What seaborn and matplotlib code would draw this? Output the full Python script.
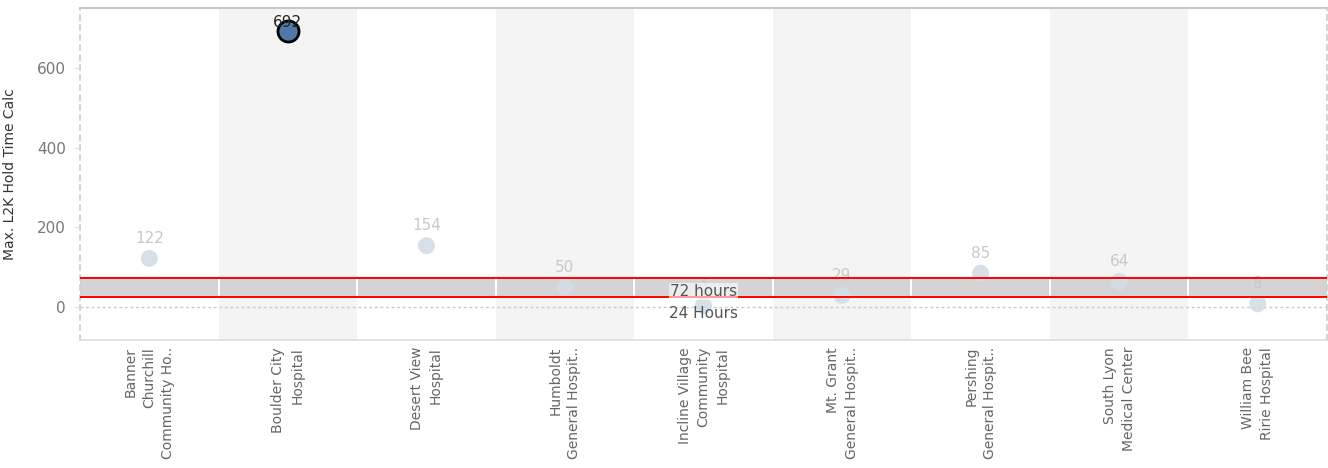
import pandas as pd
import matplotlib.pyplot as plt
import seaborn as sns
import numpy as np

hospitals = ['Banner\nChurchill\nCommunity Ho..', 'Boulder City\nHospital', 'Desert View\nHospital',
             'Humboldt\nGeneral Hospit..', 'Incline Village\nCommunity\nHospital', 'Mt. Grant\nGeneral Hospit..',
             'Pershing\nGeneral Hospit..', 'South Lyon\nMedical Center', 'William Bee\nRirie Hospital']
hold_time = [122, 692, 154, 50, 4, 29, 85, 64, 8]
highlight = [False, True, False, False, False, False, False, False, False]
ref_lines = [24, 72]
ref_labels = ['24 Hours', '72 hours']

df = pd.DataFrame({'hospital': hospitals, 'hold': hold_time, 'hi': highlight})
df['pos'] = np.arange(len(df))

sns.set_style('white')
plt.rcParams['font.family'] = ['DejaVu Sans']

fig = plt.figure(figsize=(13.28, 4.68), dpi=100)
ax = fig.add_axes([80 / 1328, 128 / 468, 1247 / 1328, 332 / 468])

n = len(df)
ax.set_xlim(-0.5, n - 0.5)
ax.set_ylim(-83, 751)

# alternating column shading
for i in range(n):
    if i % 2 == 1:
        ax.axvspan(i - 0.5, i + 0.5, color='#f4f4f4', zorder=0, lw=0)

# reference band
ax.axhspan(ref_lines[0], ref_lines[1], color='#d4d4d4', zorder=1, lw=0)
ax.vlines(np.arange(n - 1) + 0.5, ref_lines[0], ref_lines[1], color='white', lw=1.5, zorder=1.5)
for v in ref_lines:
    ax.axhline(v, color='#ff0000', lw=1.4, zorder=4)
ax.axhline(0, color='#c8c8c8', lw=1, ls=(0, (2, 2)), zorder=1)

rest = df[~df['hi']]
top = df[df['hi']]
sns.scatterplot(data=rest, x='pos', y='hold', color='#d3dce6', s=150, edgecolor='none',
                alpha=0.9, zorder=3, ax=ax, legend=False)
sns.scatterplot(data=top, x='pos', y='hold', color='#4e79a7', s=230, edgecolor='black',
                linewidth=2, zorder=5, ax=ax, legend=False)

for _, r in df.iterrows():
    if r['hi']:
        ax.annotate(str(r['hold']), (r['pos'], r['hold']), xytext=(0, 1), textcoords='offset points',
                    ha='center', va='bottom', fontsize=11, color='#222222', zorder=6)
    else:
        ax.annotate(str(r['hold']), (r['pos'], r['hold']), xytext=(0, 9), textcoords='offset points',
                    ha='center', va='bottom', fontsize=11, color='#c8c8c8', zorder=3)

# reference line labels in the middle column
mid = (n - 1) / 2
ax.text(mid, 39, ref_labels[1], ha='center', va='center', fontsize=11, color='#555555', zorder=6,
        bbox=dict(facecolor='white', alpha=0.6, edgecolor='none', pad=0.5))
ax.text(mid, -17, ref_labels[0], ha='center', va='center', fontsize=11, color='#555555', zorder=6)

ax.set_xticks(df['pos'])
ax.set_xticklabels(df['hospital'], rotation=90, ha='center', va='top', multialignment='right',
                   fontsize=10, color='#666666', linespacing=1.45)
ax.set_xticks(np.arange(n + 1) - 0.5, minor=True)
ax.tick_params(axis='x', which='major', length=0, pad=5)
ax.tick_params(axis='x', which='minor', length=10, color='#eeeeee', width=1)

ax.set_yticks([0, 200, 400, 600])
ax.tick_params(axis='y', length=4, color='#dddddd', labelsize=11, labelcolor='#777777', pad=6, left=True)

ax.set_xlabel('')
ax.set_ylabel('Max. L2K Hold Time Calc', fontsize=10, color='#333333')
ax.yaxis.set_label_coords(-0.0505, 0.5)

for side in ['left', 'right']:
    ax.spines[side].set_visible(True)
    ax.spines[side].set_color('#cccccc')
    ax.spines[side].set_linestyle((0, (3, 3)))
    ax.spines[side].set_linewidth(1.2)
ax.spines['top'].set_color('#c8c8c8')
ax.spines['top'].set_linewidth(1.5)
ax.spines['bottom'].set_color('#dedede')
ax.spines['bottom'].set_linewidth(1.2)

fig.savefig('out.png', dpi=100)
